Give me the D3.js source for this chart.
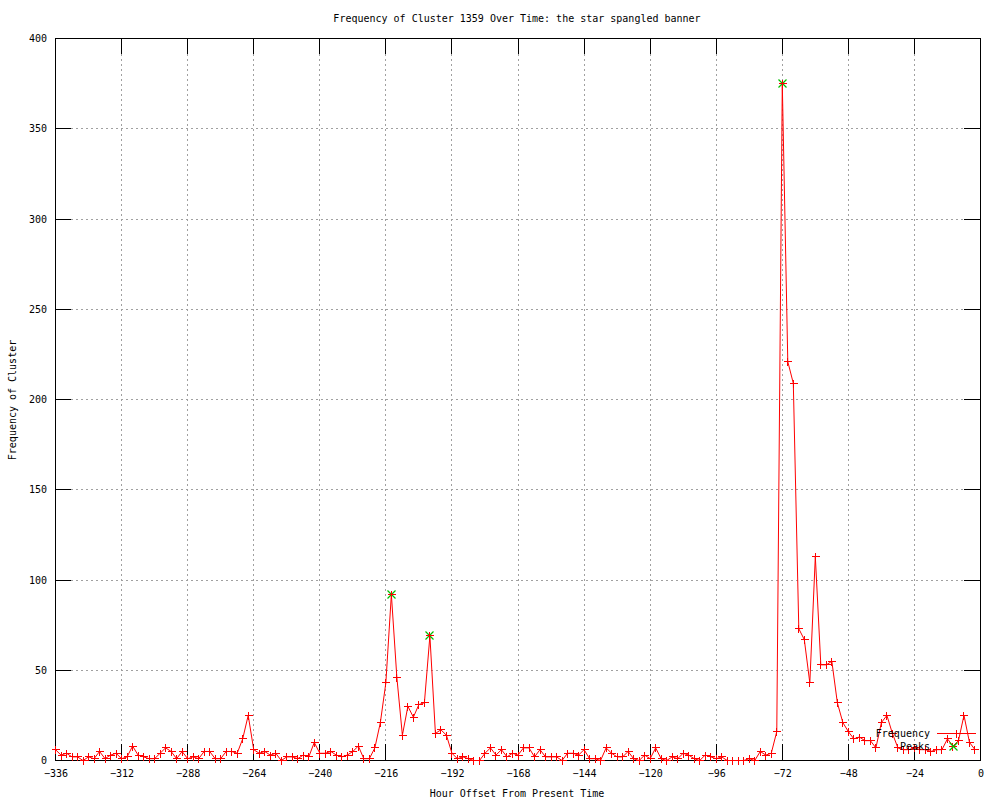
<!DOCTYPE html>
<html>
<head>
<meta charset="utf-8">
<script src="https://cdn.jsdelivr.net/npm/d3@7"></script>
<style>
  html, body { margin: 0; padding: 0; background: #ffffff; }
  svg text { font-family: "DejaVu Sans Mono", "Liberation Mono", monospace; font-size: 10px; fill: #000; }
</style>
</head>
<body>
<svg id="chart" width="1000" height="800"></svg>
<script>
// ---- data ----
const titleText = "Frequency of Cluster 1359 Over Time: the star spangled banner";
const xLabel = "Hour Offset From Present Time";
const yLabel = "Frequency of Cluster";
const hourStart = -336;   // first sample's hour offset
const hourStep = 2;       // hours between samples
const frequency = [
  // -336 .. -266
  6, 3, 4, 2, 2, 0, 2, 1, 5, 1, 3, 4, 1, 2, 8, 3, 2, 1, 1, 4, 7, 5, 1, 5, 1, 2, 1, 5, 5, 1, 1, 5, 5, 4, 12, 25,
  // -264 .. -198
  6, 4, 5, 3, 4, 0, 2, 2, 1, 3, 2, 10, 4, 4, 5, 3, 2, 3, 5, 8, 1, 1, 7, 21, 43, 92, 46, 14, 30, 24, 31, 32, 69, 15,
  // -196 .. -128
  17, 14, 4, 1, 2, 1, 0, 0, 4, 7, 3, 6, 2, 4, 3, 7, 7, 2, 6, 2, 2, 2, 0, 4, 4, 3, 6, 1, 1, 0, 7, 4, 2, 2, 5,
  // -126 .. -74
  1, 0, 3, 1, 7, 1, 0, 2, 1, 4, 3, 1, 0, 3, 2, 1, 2, 0, 0, 0, 0, 1, 0, 5, 3, 4, 16,
  // -72 .. -2
  375, 221, 209, 73, 67, 43, 113, 53, 53, 55, 32, 21, 16, 12, 13, 11, 11, 7, 21, 25, 15, 7, 6, 6, 7, 6, 6, 5, 6, 6, 12, 8, 11, 25, 10, 6
];
const peakHours = [-214, -200, -72];
const peakValues = [92, 69, 375];
const xTicks = [-336, -312, -288, -264, -240, -216, -192, -168, -144, -120, -96, -72, -48, -24, 0];
const yTicks = [0, 50, 100, 150, 200, 250, 300, 350, 400];
const legendLabels = ["Frequency", "Peaks"];

// ---- drawing ----
const svg = d3.select("#chart");
const pLeft = 55, pRight = 980, pTop = 38, pBottom = 760;
const x = d3.scaleLinear().domain([-336, 0]).range([pLeft + 0.5, pRight + 0.5]);
const y = d3.scaleLinear().domain([0, 400]).range([pBottom + 0.5, pTop + 0.5]);
const red = "#ff0000", green = "#00c000";
const tickLen = 16;
const px = v => Math.round(v - 0.5) + 0.5;

const freqData = frequency.map((v, i) => ({ h: hourStart + i * hourStep, v }));
const peakData = peakHours.map((h, i) => ({ h, v: peakValues[i] }));

// grid
const grid = svg.append("g").attr("shape-rendering", "crispEdges")
  .attr("stroke", "#a0a0a0").attr("stroke-width", 1).attr("stroke-dasharray", "2,3");
grid.selectAll("line.gy").data(yTicks.slice(1, -1)).join("line")
  .attr("x1", pLeft + tickLen).attr("x2", pRight - tickLen).attr("y1", d => px(y(d))).attr("y2", d => px(y(d)));
grid.selectAll("line.gx").data(xTicks.slice(1, -1)).join("line")
  .attr("y1", pTop + tickLen).attr("y2", pBottom - tickLen).attr("x1", d => px(x(d))).attr("x2", d => px(x(d)));

// tick labels via d3 axes (no tick lines; ticks drawn separately below)
function styleAxis(g) {
  g.attr("font-family", null).attr("font-size", null);
  g.select(".domain").remove();
  g.selectAll(".tick line").remove();
}
svg.append("g").attr("transform", `translate(${pLeft},0)`)
  .call(d3.axisLeft(y).tickValues(yTicks).tickSize(0).tickPadding(8)).call(styleAxis);
svg.append("g").attr("transform", `translate(0,${pBottom})`)
  .call(d3.axisBottom(x).tickValues(xTicks).tickSize(0).tickPadding(10)).call(styleAxis);

// inward ticks on all four sides
const ticks = svg.append("g").attr("stroke", "#000").attr("stroke-width", 1).attr("shape-rendering", "crispEdges");
ticks.selectAll("line.tl").data(yTicks).join("line").attr("class", "tl")
  .attr("x1", pLeft).attr("x2", pLeft + tickLen).attr("y1", d => px(y(d))).attr("y2", d => px(y(d)));
ticks.selectAll("line.tr").data(yTicks).join("line").attr("class", "tr")
  .attr("x1", pRight - tickLen).attr("x2", pRight).attr("y1", d => px(y(d))).attr("y2", d => px(y(d)));
ticks.selectAll("line.tb").data(xTicks).join("line").attr("class", "tb")
  .attr("y1", pBottom - tickLen).attr("y2", pBottom).attr("x1", d => px(x(d))).attr("x2", d => px(x(d)));
ticks.selectAll("line.tt").data(xTicks).join("line").attr("class", "tt")
  .attr("y1", pTop).attr("y2", pTop + tickLen).attr("x1", d => px(x(d))).attr("x2", d => px(x(d)));

// border
svg.append("rect").attr("x", pLeft + 0.5).attr("y", pTop + 0.5)
  .attr("width", pRight - pLeft).attr("height", pBottom - pTop)
  .attr("fill", "none").attr("stroke", "#000").attr("stroke-width", 1).attr("shape-rendering", "crispEdges");

// titles
svg.append("text").attr("x", 517).attr("y", 22).attr("text-anchor", "middle").text(titleText);
svg.append("text").attr("x", 517).attr("y", 797).attr("text-anchor", "middle").text(xLabel);
svg.append("text").attr("transform", "translate(16,400) rotate(-90)").attr("text-anchor", "middle").text(yLabel);

// marker paths
const plusPath = (s) => `M${-s},0H${s}M0,${-s}V${s}`;
const crossPath = (s) => `M${-s},${-s}L${s},${s}M${-s},${s}L${s},${-s}`;

// frequency line
const line = d3.line().x(d => x(d.h)).y(d => y(d.v));
svg.append("path").datum(freqData).attr("d", line)
  .attr("fill", "none").attr("stroke", red).attr("stroke-width", 1);

// peaks (green x, red + drawn over its centre)
svg.append("g").selectAll("path").data(peakData).join("path")
  .attr("transform", d => `translate(${px(x(d.h))},${px(y(d.v))})`)
  .attr("d", crossPath(4)).attr("stroke", green).attr("stroke-width", 1.2).attr("fill", "none");

svg.append("g").selectAll("path").data(freqData).join("path")
  .attr("transform", d => `translate(${px(x(d.h))},${px(y(d.v))})`)
  .attr("d", plusPath(4)).attr("stroke", red).attr("stroke-width", 1).attr("fill", "none")
  .attr("shape-rendering", "crispEdges");

// legend
const lg = svg.append("g");
lg.append("text").attr("x", 930).attr("y", 737).attr("text-anchor", "end").text(legendLabels[0]);
lg.append("text").attr("x", 930).attr("y", 750).attr("text-anchor", "end").text(legendLabels[1]);
lg.append("line").attr("x1", 937).attr("x2", 976).attr("y1", 733.5).attr("y2", 733.5)
  .attr("stroke", red).attr("shape-rendering", "crispEdges");
lg.append("path").attr("transform", "translate(956.5,733.5)").attr("d", plusPath(4))
  .attr("stroke", red).attr("fill", "none").attr("shape-rendering", "crispEdges");
lg.append("path").attr("transform", "translate(953.5,746.5)").attr("d", crossPath(4))
  .attr("stroke", green).attr("stroke-width", 1.2).attr("fill", "none");
</script>
</body>
</html>
